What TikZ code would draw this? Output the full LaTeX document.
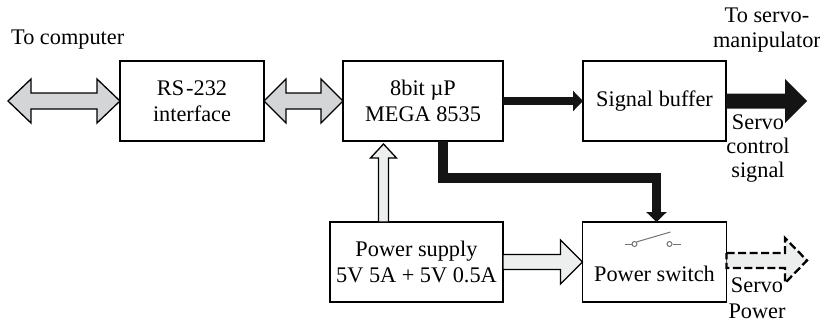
\documentclass[tikz,border=0pt]{standalone}
\usepackage{fontspec}
\setmainfont{Liberation Serif}
\usepackage{xcolor}
\usetikzlibrary{arrows.meta,positioning,calc}

\definecolor{midgrey}{HTML}{D4D5D7}
\definecolor{palegrey}{HTML}{EDEEEE}

\begin{document}
\begin{tikzpicture}[
  x=1pt, y=1pt,
  font=\fontsize{22.3}{26}\selectfont,
  box/.style={draw, align=center, inner sep=0pt, outer sep=0pt,
              minimum height=80pt, line width=1.3pt},
  lab/.style={align=center, inner sep=0pt},
  % block arrows: #1 half shaft, #2 half head, #3 head length
  toright/.style n args={3}{to path={
    let \p1=(\tikztostart), \p2=(\tikztotarget) in
    (\x1,\y1+#1) -- (\x2-#3,\y1+#1) -- (\x2-#3,\y1+#2) -- (\x2,\y1)
    -- (\x2-#3,\y1-#2) -- (\x2-#3,\y1-#1) -- (\x1,\y1-#1) -- cycle}},
  toboth/.style n args={3}{to path={
    let \p1=(\tikztostart), \p2=(\tikztotarget) in
    (\x1,\y1) -- (\x1+#3,\y1+#2) -- (\x1+#3,\y1+#1) -- (\x2-#3,\y1+#1)
    -- (\x2-#3,\y1+#2) -- (\x2,\y1) -- (\x2-#3,\y1-#2) -- (\x2-#3,\y1-#1)
    -- (\x1+#3,\y1-#1) -- (\x1+#3,\y1-#2) -- cycle}},
  toup/.style n args={3}{to path={
    let \p1=(\tikztostart), \p2=(\tikztotarget) in
    (\x1-#1,\y1) -- (\x1-#1,\y2-#3) -- (\x1-#2,\y2-#3) -- (\x1,\y2)
    -- (\x1+#2,\y2-#3) -- (\x1+#1,\y2-#3) -- (\x1+#1,\y1) -- cycle}},
  datalink/.style={draw, line width=1.3pt, fill=midgrey, miter limit=6},
  supply/.style={draw, line width=1.3pt, fill=palegrey, miter limit=6},
  heavy/.style={draw=black!92, line width=#1},
  heavy/.default=8pt,
  swline/.style={line width=1pt, black!55}
]
\useasboundingbox (0,0) rectangle (820,-322);

\node[box, minimum width=144pt] (rs) at (192,-101) {RS\kern2pt-232\\interface};
\node[box, minimum width=160pt, right=79pt of rs] (cpu) {8bit µP\\MEGA 8535};
\node[box, minimum width=143pt, right=80pt of cpu] (buf) {Signal buffer};
\node[box, minimum width=173pt, below=81pt of cpu.south east, anchor=north east] (psu)
  {Power supply\\5V 5A + 5V 0.5A};
\node[box, minimum width=144pt, below=81pt of buf] (sw) {\\[14pt]Power switch};

\coordinate (pcend) at (8,-101);
\coordinate (outend) at (807,-101);
\coordinate (pwrend) at (807,-260.5);
\coordinate (bend) at (443,-178);

% data links
\draw[datalink] (pcend) to[toboth={8pt}{22pt}{23pt}] (rs.west);
\draw[datalink] (rs.east) to[toboth={8pt}{22pt}{22pt}] (cpu.west);
\draw[heavy, -{Triangle[length=10pt,width=20pt]}] (cpu.east) -- (buf.west);
\draw[fill=black!92, draw=none] (buf.east) to[toright={7.5pt}{22pt}{22pt}] (outend);
\draw[heavy=9.5pt, -{Triangle[length=10pt,width=20pt]}]
  (cpu.south -| bend) -- (bend) -| ($(sw.north)+(2,0)$);

% power links
\draw[supply] (psu.north -| 383.5,0) to[toup={5pt}{13pt}{14pt}] (383.5,-144);
\draw[supply] (psu.east |- sw.east) to[toright={7.5pt}{22pt}{22pt}] (sw.west);
\draw[supply, draw=none] ($(sw.east)+(0,1.5)$) to[toright={7.5pt}{22.5pt}{22pt}] (pwrend);
\draw[line width=2.3pt, dash pattern=on 8pt off 3.5pt] ($(sw.east)+(0,1.5)$)
  to[toright={7.5pt}{22.5pt}{22pt}] (pwrend);

% switch symbol
\coordinate (swa) at ($(sw.north)+(-20,-22)$);
\coordinate (swb) at ($(sw.north)+(15,-22)$);
\node[draw=black!55, circle, line width=1pt, minimum size=5pt, inner sep=0pt] (conta) at (swa) {};
\node[draw=black!55, circle, line width=1pt, minimum size=5pt, inner sep=0pt] (contb) at (swb) {};
\draw[swline] (conta.west) -- ++(-7,0);
\draw[swline] (contb.east) -- ++(8,0);
\draw[swline] (conta.north east) -- ($(contb)+(1,12)$);

% labels
\node[lab, anchor=west] (pclab) at (11,-39.5) {To computer};
\node[lab, font=\fontsize{22.3}{24.5}\selectfont] (outlab) at (767,-30) {To servo-\\manipulator};
\node[lab, font=\fontsize{22.3}{24}\selectfont] (siglab) at (758,-149) {Servo\\control\\signal};
\node[lab] (pwrlab) at (757,-298) {Servo\\Power};
\end{tikzpicture}
\end{document}
